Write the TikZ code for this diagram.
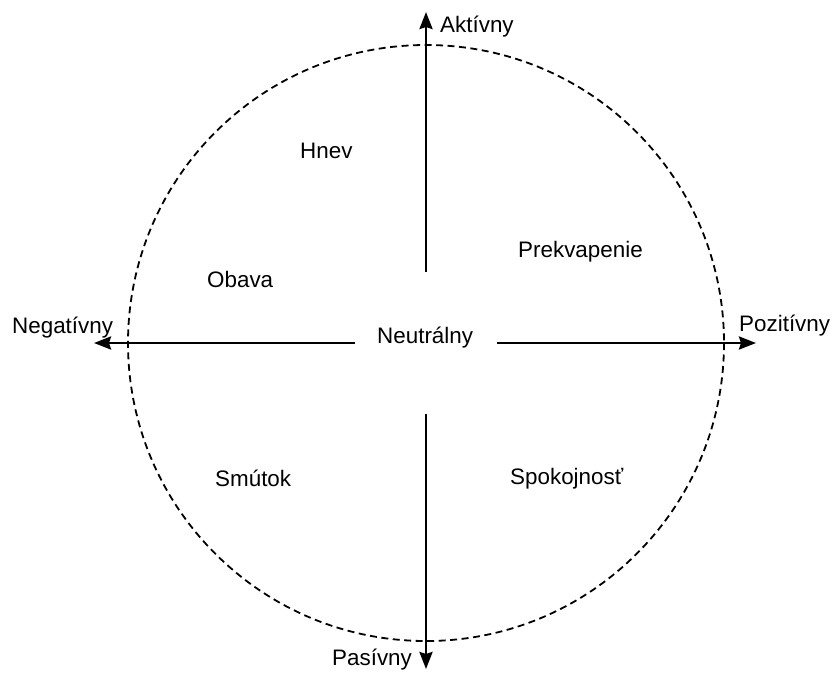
\documentclass[tikz,border=0pt]{standalone}
\usepackage{fontspec}
\setmainfont{Liberation Sans}
\usetikzlibrary{arrows.meta}
\begin{document}
\begin{tikzpicture}[x=1pt,y=-1pt,
  lbl/.style={anchor=base west,inner sep=0pt,font=\fontsize{22.4}{26}\selectfont},
  axis/.style={line width=2.6pt,-{Stealth[length=17pt,width=13pt,inset=2pt]}},
  ring/.style={line width=1.8pt,dash pattern=on 7pt off 4.5pt}]
\useasboundingbox (0,0) rectangle (832,673);
\fill[white] (0,0) rectangle (832,673);
\coordinate (c) at (426,343);
\draw[ring] (c) circle[radius=298];
% axis endpoints
\coordinate (upS) at (426,272);
\coordinate (upE) at (426,12);
\coordinate (dnS) at (426,414);
\coordinate (dnE) at (426,669);
\coordinate (lfS) at (355,343);
\coordinate (lfE) at (94,343);
\coordinate (rtS) at (497,343);
\coordinate (rtE) at (756,343);
\draw[axis] (upS) -- (upE);
\draw[axis] (dnS) -- (dnE);
\draw[axis] (lfS) -- (lfE);
\draw[axis] (rtS) -- (rtE);
% labels
\node[lbl] (akt) at (440,32) {Aktívny};
\node[lbl] (pas) at (332,665) {Pasívny};
\node[lbl] (neg) at (12,333) {Negatívny};
\node[lbl] (poz) at (739,331) {Pozitívny};
\node[lbl] (neu) at (377,343) {Neutrálny};
\node[lbl] (hnev) at (300,158) {Hnev};
\node[lbl] (obava) at (207,287) {Obava};
\node[lbl] (prek) at (518,257) {Prekvapenie};
\node[lbl] (smut) at (215,486) {Smútok};
\node[lbl] (spok) at (510,484) {Spokojnosť};
\end{tikzpicture}
\end{document}
